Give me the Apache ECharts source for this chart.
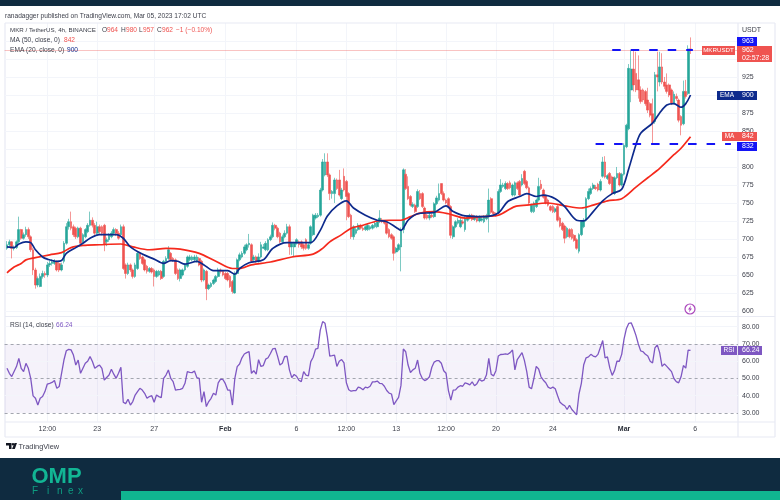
<!DOCTYPE html>
<html>
<head>
<meta charset="utf-8">
<title>MKR / TetherUS</title>
<script src="https://cdn.jsdelivr.net/npm/echarts@6/dist/echarts.min.js"></script>
<style>
html,body{margin:0;padding:0;background:#fff;}
#main{width:780px;height:500px;}
</style>
</head>
<body>
<div id="main"></div>
<script>
//4h candles, one row = 20 candles
var opens = [
687,692,696,687,688,696,713,701,706,713,703,685,657,636,634,648,652,650,664,666,
666,669,666,657,669,694,717,724,717,715,703,715,696,703,710,719,726,719,708,717,
717,719,696,699,703,708,713,708,706,717,664,652,664,657,648,659,680,675,671,662,
655,659,657,648,650,655,648,669,673,680,673,671,657,645,650,657,662,671,671,671,
669,673,669,643,655,631,634,638,641,648,657,655,652,652,648,641,625,652,671,675,
680,685,692,692,671,675,669,675,687,685,685,699,703,719,715,708,696,703,708,717,
689,689,694,696,696,692,699,687,694,706,729,731,733,768,789,807,789,763,763,782,
782,756,787,780,763,733,703,708,713,719,715,713,713,714,715,717,717,724,726,724,
722,713,706,703,682,685,689,713,790,773,759,745,747,745,763,763,743,733,729,733,
731,749,754,777,763,754,756,745,703,717,722,717,724,713,726,729,733,727,731,725,
726,724,728,731,756,737,735,736,766,773,770,777,778,761,761,778,780,775,794,780,
771,738,738,745,754,776,768,760,754,745,745,738,745,729,722,718,703,713,713,705,
699,683,706,717,726,756,763,770,772,776,768,787,807,784,791,786,763,785,791,775,
790,828,853,907,936,930,921,907,907,905,893,888,874,863,928,918,939,918,914,914,
907,889,898,893,870,860,905,902,964];
var closes = [
692,696,687,688,696,713,701,706,713,703,685,657,636,645,648,652,650,664,666,668,
669,657,657,664,694,717,724,715,706,703,715,694,706,713,719,726,719,708,717,710,
708,692,699,706,708,713,708,701,717,659,652,664,657,648,664,680,673,666,657,655,
659,654,648,655,655,645,669,673,685,671,671,652,645,657,657,664,675,675,675,675,
675,664,643,657,631,636,638,643,648,657,655,650,645,643,634,627,652,671,678,680,
689,692,694,669,675,669,675,692,689,694,699,703,719,715,703,696,703,708,717,689,
694,694,699,692,689,687,687,692,717,733,733,733,768,807,807,789,763,766,782,770,
761,768,768,759,731,703,717,713,719,715,713,717,719,717,719,722,724,729,724,722,
708,703,701,680,687,692,713,796,770,756,747,748,738,766,756,745,729,729,733,731,
749,757,763,763,754,750,745,705,717,724,726,726,722,729,731,733,727,731,725,731,
728,731,732,754,737,735,733,766,775,775,777,770,771,775,778,770,761,784,777,771,
750,747,750,754,773,770,758,750,747,740,738,742,726,718,713,701,715,703,701,698,
687,706,724,726,756,766,770,775,770,768,780,807,786,788,777,763,785,791,775,790,
830,858,937,936,914,907,907,891,893,888,879,872,861,928,925,939,918,912,905,900,
889,901,895,865,858,905,898,964,962];
var lows = [
685,688,673,684,686,694,699,699,703,700,682,650,631,633,633,645,646,647,661,663,
664,655,654,655,666,692,713,712,703,700,701,692,694,701,708,717,716,705,706,707,
705,683,690,696,701,705,704,699,703,657,645,650,654,645,646,657,671,664,655,652,
653,652,634,646,648,643,646,667,671,669,668,650,643,641,648,655,660,669,669,669,
667,662,640,641,615,629,632,636,639,646,652,648,643,641,632,624,624,650,669,673,
678,683,688,667,669,667,667,673,686,683,683,697,701,712,701,694,694,701,706,678,
678,675,692,688,686,684,685,685,692,704,727,729,731,766,787,786,754,756,750,768,
759,754,766,726,729,700,699,706,711,713,711,711,711,712,713,715,715,722,722,720,
706,701,699,670,680,683,655,708,768,754,745,743,736,743,754,743,727,727,726,729,
729,747,752,761,752,748,743,701,700,715,720,715,720,710,724,727,725,725,723,723,
724,722,726,709,735,733,731,734,764,771,768,768,769,759,759,768,759,773,775,769,
748,736,736,743,752,768,756,748,745,738,736,736,724,716,711,694,701,701,699,696,
685,680,704,715,724,754,761,768,768,766,766,785,784,782,775,761,761,783,773,773,
788,826,851,890,905,904,895,888,890,885,875,869,833,860,905,912,915,908,902,897,
886,887,892,862,844,858,895,900,957];
var highs = [
697,699,697,691,698,731,714,709,717,716,705,688,660,648,652,656,655,668,670,672,
672,670,668,667,697,722,728,738,720,717,717,717,708,715,722,738,730,722,724,720,
719,721,702,708,711,716,715,711,720,720,666,667,666,659,667,682,682,677,673,664,
661,661,659,657,657,657,671,676,690,682,675,673,659,659,659,666,677,678,677,678,
678,675,671,659,657,638,640,645,650,660,659,657,654,654,650,643,655,673,681,683,
692,694,707,694,678,677,680,696,693,697,701,706,723,721,717,710,706,712,721,720,
696,696,701,698,698,694,701,694,719,735,736,736,771,811,819,819,791,768,785,784,
796,771,798,782,765,735,719,716,722,721,718,719,721,719,721,724,726,740,729,726,
724,715,708,705,689,694,716,798,797,787,761,751,749,769,768,765,745,735,736,735,
751,760,777,777,766,756,758,747,719,726,729,729,727,731,733,735,735,733,733,733,
731,733,735,770,758,739,737,769,783,778,780,779,781,777,780,780,782,790,796,782,
773,749,752,756,785,782,770,762,756,747,747,744,747,731,724,720,717,715,715,707,
701,708,726,729,758,770,773,778,775,778,783,814,815,790,793,788,787,800,793,792,
833,860,943,962,962,960,955,912,909,907,910,890,895,932,960,960,958,925,930,916,
909,905,902,895,872,920,921,969,980];

//RSI, one value per candle
var rsiValues = [
55.9,53,51.1,54,56.9,61.7,55.9,54,58.8,55.9,50.1,39.9,38.5,34.6,38.5,39.5,42.4,46.8,47.2,47.7,
48.8,44.3,45.3,53,60.7,66.1,66.9,66.6,63.6,57.8,60.7,53,55.9,58.8,60,62.7,59.8,55.9,57,57.8,
55.9,49.1,50.6,52,55.4,52.5,50.1,53,56.5,36.2,35.4,38,34.6,36.6,40.4,42.4,44.3,43.3,41.4,38.5,
39.5,40,36.2,40.4,39.5,38.9,50.1,52,54.9,50.1,48.2,43.3,43.5,43.7,44.3,47.2,54,53.6,53.4,54.3,
50.5,50.1,36.2,42.4,33.7,36.6,38.5,41.4,40.4,47.5,49.6,49.4,47,43.3,43.3,34.6,50.1,56.9,58.4,62,
64.2,65,65.6,53,54.5,52.5,60.9,57,57.5,61.2,62,64.5,67.2,67.5,63,57.8,58.8,62.7,62.9,55,
50.5,52.3,51.3,49,48.2,54,52,51.5,59.8,62.3,67,67.5,78,83,82,74,63,63.2,63.5,57,
60,61,59,47.5,43.5,42.6,43,43,45,44.5,43.5,45,44.6,45.5,48,48,48.5,47.2,47,45.5,
43,41.5,41,34.8,37,39,46,67.1,65.5,57.8,53.5,55,55.9,60.7,53,50,48.8,49.5,51,56.5,
59.5,60.3,60.3,58.8,54.5,53,43,37.5,43.3,43.4,45,45.8,45.5,47.5,47,46.3,48,45.8,47,49.5,
48.5,49,52,61.7,52.5,51.5,54.5,63,63.9,64,64.3,64,65,66.5,55,61,63,65,60.5,54,
45,44,50,57,55.5,51,49,47.5,45,44.2,45,44,40,36.2,35,34.2,32,34.5,32,30.5,
29,41,47.2,58,62,62.5,64,63,62.5,64,68,72,62,62.5,56,51.8,54.7,60,60,64,
73,79,82,82.3,79,75,70,66,65.5,64,63,60,59,67.7,69.5,65,57,58.5,57,55.5,
54,50,48.2,47.5,51,57.5,56,66.5,66.24];

//moving averages, read at the candles listed in the *At arrays
var maAt = [0,3,6,8,12,18,23,27,32,39,48,53,60,67,73,81,88,95,98,103,111,120,129,133,136,141,145,150,156,161,166,170,174,180,186,193,200,207,214,219,228,235,242,247,253,259,265,270,275,281,284,288];
var maValues = [653,661,666,671,674,678,681,688,691,692,693,689,685,687,686,680,669,659,659,664,668,675,679,687,696,706,715,719,725,726,726,731,736,738,735,729,731,733,745,747,750,746,743,747,753,756,772,785,798,817,826,842];
var emaAt = [0,3,5,8,10,12,15,17,21,23,25,29,32,35,39,46,49,52,57,62,66,69,72,75,80,83,87,93,96,98,102,108,112,118,122,128,132,135,139,143,146,151,156,160,164,166,169,173,180,185,188,193,201,207,211,216,219,223,226,231,235,240,243,247,251,255,259,262,265,267,272,275,278,281,284,286,288];
var emaValues = [689,688,693,696,695,685,675,672,669,670,680,688,694,701,706,706,701,689,679,672,666,670,669,665,669,664,656,656,651,659,667,671,687,695,695,695,712,732,746,753,743,733,726,724,716,712,726,735,737,746,738,732,731,736,752,759,763,759,761,756,745,726,725,738,753,763,769,798,831,847,861,875,886,888,883,888,900];

//axis ticks
var priceTicks = [600,625,650,675,700,725,750,775,800,825,850,875,900,925];
var rsiTicks = [30,40,50,60,70,80];
var tickAt = [18,39,63,93,123,144,165,186,207,231,261,291];
var tickText = ['12:00','23','27','Feb','6','12:00','13','12:00','20','24','Mar','6'];

var slotCount = 310;
var categories = [];
for (var i = 0; i < slotCount; i++) {
    var pos = tickAt.indexOf(i);
    categories.push(pos >= 0 ? tickText[pos] : '');
}

var candleData = [];
var rsiData = [];
for (var k = 0; k < closes.length; k++) {
    candleData.push([k + 1, opens[k], closes[k], lows[k], highs[k]]);
    rsiData.push([k + 1, rsiValues[k]]);
}

function pairUp(at, values) {
    var out = [];
    for (var j = 0; j < at.length; j++) {
        out.push([at[j] + 1, values[j]]);
    }
    return out;
}

function levelLines(values, color, type) {
    return values.map(function (v) {
        return {yAxis: v, lineStyle: {color: color, width: 1, type: type}};
    });
}

function isTick(index) {
    return tickAt.indexOf(index) >= 0;
}

var FONT = '"Liberation Sans"';
var SIZE = 7;
var INK = '#3c3f4a';
var UP = '#26a69a';
var DOWN = '#ef5350';
var PURPLE = '#7e57c2';
var gridLine = '#f3f5fa';
var frameLine = '#e8eaf3';

function text(x, y, str, color, size, align, weight) {
    return {
        type: 'text', x: x, y: y, z: 100, silent: true,
        style: {
            text: str, fill: color, align: align || 'left', verticalAlign: 'middle',
            font: (weight || 'normal') + ' ' + size + 'px ' + FONT
        }
    };
}

function box(x, y, w, h, color) {
    return {type: 'rect', z: 99, silent: true, shape: {x: x, y: y, width: w, height: h}, style: {fill: color}};
}

function seg(x1, y1, x2, y2) {
    return {type: 'line', z: 1, silent: true, shape: {x1: x1, y1: y1, x2: x2, y2: y2}, style: {stroke: frameLine, lineWidth: 1.2}};
}

var elements = [
    //page bands
    box(0, 0, 780, 6, '#0f2b40'),
    box(0, 458, 780, 42, '#0f2b40'),
    box(121, 491, 659, 9, '#10b590'),
    //frame of the chart
    seg(5, 23, 775, 23), seg(5, 23, 5, 437), seg(775, 23, 775, 437), seg(5, 437, 775, 437),
    seg(738, 23, 738, 437), seg(5, 316.5, 775, 316.5), seg(5, 422, 775, 422),
    //header and legends
    text(5, 16, 'ranadagger published on TradingView.com, Mar 05, 2023 17:02 UTC', INK, 6.6),
    text(10, 30.5, 'MKR / TetherUS, 4h, BINANCE', INK, 6.2),
    text(102, 30.5, 'O', INK, 6.6), text(107, 30.5, '964', DOWN, 6.6),
    text(121, 30.5, 'H', INK, 6.6), text(126, 30.5, '980', DOWN, 6.6),
    text(139, 30.5, 'L', INK, 6.6), text(143, 30.5, '957', DOWN, 6.6),
    text(157, 30.5, 'C', INK, 6.6), text(162, 30.5, '962', DOWN, 6.6),
    text(176, 30.5, '\u22121 (\u22120.10%)', DOWN, 6.6),
    text(10, 40.5, 'MA (50, close, 0)', INK, 6.6), text(64, 40.5, '842', DOWN, 6.6),
    text(10, 50, 'EMA (20, close, 0)', INK, 6.6), text(67, 50, '900', '#0d2a8c', 6.6),
    text(10, 325, 'RSI (14, close)', INK, 6.6), text(56, 325, '66.24', PURPLE, 6.6),
    //price scale tags
    text(742, 30, 'USDT', INK, SIZE),
    box(737, 37, 20, 9, '#1414f5'), text(742, 41.5, '963', '#fff', SIZE),
    box(702, 46, 33, 9, DOWN), text(718.5, 50.5, 'MKRUSDT', '#fff', 6.2, 'center'),
    box(737, 46, 35, 16, DOWN), text(742, 50.5, '962', '#fff', SIZE), text(742, 58, '02:57:28', '#fff', SIZE),
    box(717, 91, 20, 9, '#0d2a8c'), text(727, 95.5, 'EMA', '#fff', 6.5, 'center'),
    box(737, 91, 20, 9, '#0d2a8c'), text(742, 95.5, '900', '#fff', SIZE),
    box(722, 132, 15, 9, DOWN), text(729.5, 136.5, 'MA', '#fff', 6.5, 'center'),
    box(737, 132, 20, 9, DOWN), text(742, 136.5, '842', '#fff', SIZE),
    box(737, 142, 20, 9, '#1414f5'), text(742, 146.5, '832', '#fff', SIZE),
    box(721, 346, 16, 9, PURPLE), text(729, 350.5, 'RSI', '#fff', 6.5, 'center'),
    box(738, 346, 24, 9, PURPLE), text(742, 350.5, '66.24', '#fff', SIZE),
    //alert icon
    {type: 'circle', z: 99, silent: true, shape: {cx: 690, cy: 309, r: 5}, style: {fill: '#fff', stroke: '#ab47bc', lineWidth: 1.2}},
    {type: 'polygon', z: 100, silent: true, shape: {points: [[691, 305.5], [688, 309.6], [689.7, 309.6], [689, 312.5], [692, 308.4], [690.3, 308.4]]}, style: {fill: '#ab47bc'}},
    //TradingView mark
    {type: 'polygon', z: 100, silent: true, shape: {points: [[6, 443], [11.5, 443], [11.5, 449], [9, 449], [9, 445.5], [6, 445.5]]}, style: {fill: '#131722'}},
    {type: 'circle', z: 100, silent: true, shape: {cx: 13, cy: 444.2, r: 1.2}, style: {fill: '#131722'}},
    {type: 'polygon', z: 100, silent: true, shape: {points: [[14.5, 443], [17, 443], [14.8, 449], [12, 449]]}, style: {fill: '#131722'}},
    text(18.5, 446.5, 'TradingView', INK, 7.4),
    //footer logo
    text(31.5, 476.5, 'OMP', '#12b594', 22, 'left', 'bold'),
    text(32, 491, 'F', '#0e9c80', 10), text(47, 491, 'i', '#0e9c80', 10), text(57, 491, 'n', '#0e9c80', 10),
    text(68, 491, 'e', '#0e9c80', 10), text(78, 491, 'x', '#0e9c80', 10)
];

var myChart = echarts.init(document.getElementById('main'), null, {renderer: 'canvas'});
myChart.setOption({
    animation: false,
    backgroundColor: '#fff',
    graphic: {elements: elements},
    grid: [
        {left: 4.6, right: 42, top: 23, height: 293},
        {left: 4.6, right: 42, top: 316.4, height: 105.2}
    ],
    xAxis: [0, 1].map(function (n) {
        return {
            type: 'category', gridIndex: n, data: categories, boundaryGap: false,
            axisLine: {show: false}, axisTick: {show: false},
            splitLine: {show: true, interval: isTick, lineStyle: {color: gridLine, width: 1}},
            axisLabel: {
                show: n == 1, interval: isTick, margin: 4,
                fontFamily: FONT, fontSize: SIZE, color: INK,
                formatter: function (v) {
                    return (v == 'Feb' || v == 'Mar') ? '{b|' + v + '}' : v;
                },
                rich: {b: {fontFamily: FONT, fontSize: SIZE, fontWeight: 'bold', color: '#2a2e39'}}
            }
        };
    }),
    yAxis: [
        {
            type: 'value', gridIndex: 0, position: 'right', min: 593, max: 1000,
            splitLine: {show: false}, axisLine: {show: false}, axisTick: {show: false},
            axisLabel: {customValues: priceTicks, margin: 4, fontFamily: FONT, fontSize: SIZE, color: INK}
        },
        {
            type: 'value', gridIndex: 1, position: 'right', min: 25, max: 86,
            splitLine: {show: false}, axisLine: {show: false}, axisTick: {show: false},
            axisLabel: {
                customValues: rsiTicks, margin: 4, fontFamily: FONT, fontSize: SIZE, color: INK,
                formatter: function (v) { return v.toFixed(2); }
            }
        }
    ],
    series: [
        //only carries the horizontal grid of the price pane
        {
            type: 'line', xAxisIndex: 0, yAxisIndex: 0, data: [], silent: true,
            markLine: {
                z: 1, silent: true, symbol: 'none', label: {show: false},
                data: levelLines(priceTicks.concat([950, 975]), gridLine, 'solid')
            }
        },
        {
            type: 'candlestick', xAxisIndex: 0, yAxisIndex: 0, z: 2,
            data: candleData, encode: {x: 0, y: [1, 2, 3, 4]},
            barWidth: 2.2, silent: true,
            itemStyle: {color: UP, color0: DOWN, borderColor: UP, borderColor0: DOWN, borderWidth: 0.6},
            markLine: {
                silent: true, symbol: 'none', label: {show: false}, animation: false,
                data: [
                    {yAxis: 962, lineStyle: {color: 'rgba(239,83,80,0.35)', width: 1, type: 'solid'}},
                    [{coord: [256, 963], lineStyle: {color: '#1414f5', width: 2, type: [8.5, 10]}}, {coord: [290, 963]}],
                    [{coord: [249, 832], lineStyle: {color: '#1414f5', width: 2, type: [8.5, 10]}}, {coord: [306, 832]}]
                ]
            }
        },
        {
            type: 'line', name: 'MA', xAxisIndex: 0, yAxisIndex: 0, z: 3, silent: true,
            data: pairUp(maAt, maValues), showSymbol: false, smooth: 0.3,
            lineStyle: {color: '#f5291c', width: 1.7}
        },
        {
            type: 'line', name: 'EMA', xAxisIndex: 0, yAxisIndex: 0, z: 4, silent: true,
            data: pairUp(emaAt, emaValues), showSymbol: false, smooth: 0.3,
            lineStyle: {color: '#0d2a8c', width: 1.7}
        },
        {
            type: 'line', name: 'RSI', xAxisIndex: 1, yAxisIndex: 1, z: 3, silent: true,
            data: rsiData, showSymbol: false,
            lineStyle: {color: PURPLE, width: 1.3},
            markArea: {
                silent: true, itemStyle: {color: 'rgba(126,87,194,0.08)'},
                data: [[{coord: [0, 70]}, {coord: [309, 30]}]]
            },
            markLine: {
                z: 1, silent: true, symbol: 'none', label: {show: false},
                data: levelLines([40, 60, 80], gridLine, 'solid').concat(levelLines([30, 50, 70], '#a3a6af', [3, 3]))
            }
        }
    ]
});
</script>
</body>
</html>
